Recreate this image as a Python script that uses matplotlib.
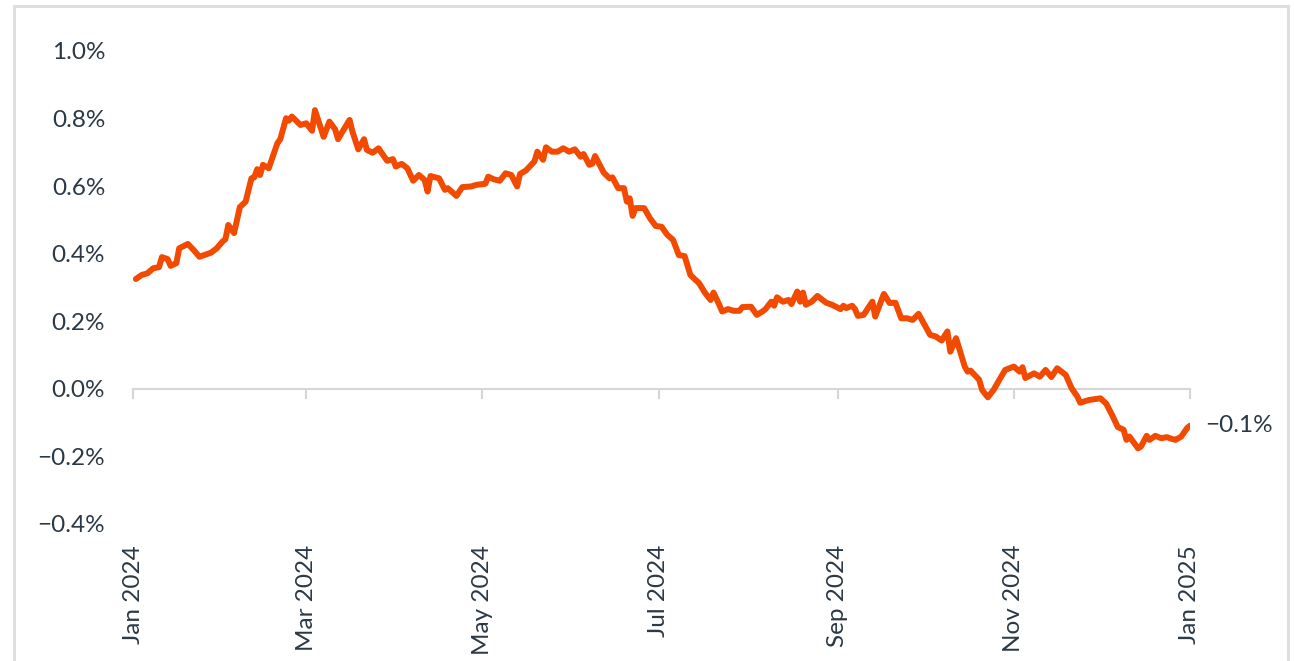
import matplotlib
matplotlib.use("Agg")
import matplotlib.pyplot as plt
from matplotlib.patches import Rectangle
import pandas as pd

dates = [
    "2024-01-02", "2024-01-04", "2024-01-06", "2024-01-08", "2024-01-10", "2024-01-11", "2024-01-13", "2024-01-14",
    "2024-01-16", "2024-01-17", "2024-01-20", "2024-01-22", "2024-01-24", "2024-01-28", "2024-01-30", "2024-02-01",
    "2024-02-02", "2024-02-03", "2024-02-05", "2024-02-07", "2024-02-09", "2024-02-11", "2024-02-12", "2024-02-13",
    "2024-02-14", "2024-02-15", "2024-02-17", "2024-02-20", "2024-02-21", "2024-02-23", "2024-02-24", "2024-02-25",
    "2024-02-28", "2024-03-01", "2024-03-03", "2024-03-04", "2024-03-07", "2024-03-09", "2024-03-11", "2024-03-12",
    "2024-03-14", "2024-03-16", "2024-03-17", "2024-03-19", "2024-03-21", "2024-03-22", "2024-03-24", "2024-03-26",
    "2024-03-29", "2024-03-31", "2024-04-01", "2024-04-03", "2024-04-05", "2024-04-07", "2024-04-09", "2024-04-11",
    "2024-04-12", "2024-04-13", "2024-04-16", "2024-04-18", "2024-04-19", "2024-04-22", "2024-04-24", "2024-04-27",
    "2024-04-29", "2024-05-02", "2024-05-03", "2024-05-05", "2024-05-07", "2024-05-09", "2024-05-11", "2024-05-13",
    "2024-05-14", "2024-05-16", "2024-05-19", "2024-05-20", "2024-05-22", "2024-05-23", "2024-05-25", "2024-05-27",
    "2024-05-29", "2024-05-31", "2024-06-02", "2024-06-04", "2024-06-05", "2024-06-07", "2024-06-08", "2024-06-09",
    "2024-06-12", "2024-06-14", "2024-06-15", "2024-06-17", "2024-06-19", "2024-06-20", "2024-06-21", "2024-06-22",
    "2024-06-23", "2024-06-26", "2024-06-28", "2024-06-30", "2024-07-02", "2024-07-04", "2024-07-06", "2024-07-08",
    "2024-07-10", "2024-07-12", "2024-07-15", "2024-07-17", "2024-07-19", "2024-07-20", "2024-07-22", "2024-07-23",
    "2024-07-25", "2024-07-27", "2024-07-29", "2024-07-30", "2024-08-02", "2024-08-04", "2024-08-06", "2024-08-07",
    "2024-08-09", "2024-08-10", "2024-08-11", "2024-08-13", "2024-08-15", "2024-08-16", "2024-08-18", "2024-08-19",
    "2024-08-20", "2024-08-21", "2024-08-23", "2024-08-25", "2024-08-28", "2024-08-30", "2024-09-02", "2024-09-03",
    "2024-09-04", "2024-09-06", "2024-09-07", "2024-09-08", "2024-09-10", "2024-09-13", "2024-09-14", "2024-09-17",
    "2024-09-19", "2024-09-21", "2024-09-23", "2024-09-25", "2024-09-27", "2024-09-29", "2024-10-03", "2024-10-05",
    "2024-10-07", "2024-10-09", "2024-10-10", "2024-10-12", "2024-10-15", "2024-10-16", "2024-10-17", "2024-10-20",
    "2024-10-21", "2024-10-23", "2024-10-25", "2024-10-27", "2024-10-29", "2024-11-01", "2024-11-03", "2024-11-04",
    "2024-11-05", "2024-11-08", "2024-11-10", "2024-11-12", "2024-11-14", "2024-11-16", "2024-11-19", "2024-11-21",
    "2024-11-23", "2024-11-24", "2024-11-27", "2024-12-01", "2024-12-03", "2024-12-05", "2024-12-07", "2024-12-09",
    "2024-12-10", "2024-12-11", "2024-12-14", "2024-12-15", "2024-12-17", "2024-12-18", "2024-12-20", "2024-12-22",
    "2024-12-24", "2024-12-26", "2024-12-27", "2024-12-29", "2024-12-31", "2025-01-01",
]

values = [
    0.325, 0.337, 0.342, 0.357, 0.360, 0.390, 0.384, 0.364,
    0.372, 0.416, 0.429, 0.411, 0.391, 0.403, 0.416, 0.436,
    0.443, 0.485, 0.461, 0.538, 0.554, 0.623, 0.626, 0.650,
    0.633, 0.663, 0.653, 0.727, 0.739, 0.801, 0.794, 0.806,
    0.781, 0.786, 0.764, 0.825, 0.746, 0.791, 0.768, 0.739,
    0.768, 0.796, 0.761, 0.709, 0.739, 0.707, 0.699, 0.712,
    0.675, 0.680, 0.658, 0.666, 0.653, 0.616, 0.633, 0.618,
    0.584, 0.630, 0.623, 0.589, 0.594, 0.571, 0.597, 0.599,
    0.604, 0.607, 0.628, 0.620, 0.616, 0.638, 0.633, 0.599,
    0.636, 0.646, 0.673, 0.702, 0.678, 0.715, 0.702, 0.702,
    0.712, 0.702, 0.709, 0.687, 0.695, 0.663, 0.666, 0.689,
    0.640, 0.623, 0.626, 0.594, 0.594, 0.554, 0.564, 0.512,
    0.535, 0.535, 0.505, 0.482, 0.480, 0.456, 0.441, 0.396,
    0.393, 0.337, 0.313, 0.285, 0.263, 0.285, 0.249, 0.229,
    0.236, 0.231, 0.231, 0.242, 0.243, 0.219, 0.229, 0.236,
    0.258, 0.246, 0.271, 0.258, 0.263, 0.251, 0.288, 0.258,
    0.285, 0.249, 0.258, 0.275, 0.255, 0.249, 0.236, 0.246,
    0.239, 0.246, 0.236, 0.216, 0.219, 0.258, 0.214, 0.281,
    0.254, 0.255, 0.209, 0.209, 0.204, 0.222, 0.160, 0.155,
    0.143, 0.170, 0.110, 0.150, 0.066, 0.051, 0.054, 0.027,
    -0.003, -0.025, -0.003, 0.027, 0.056, 0.066, 0.051, 0.064,
    0.032, 0.046, 0.036, 0.056, 0.035, 0.061, 0.041, 0.002,
    -0.023, -0.041, -0.033, -0.028, -0.044, -0.077, -0.113, -0.121,
    -0.151, -0.141, -0.176, -0.171, -0.139, -0.151, -0.139, -0.146,
    -0.143, -0.149, -0.151, -0.141, -0.116, -0.109,
]

x_ticks = ["2024-01-01", "2024-03-01", "2024-05-01", "2024-07-01", "2024-09-01", "2024-11-01", "2025-01-01"]
x_tick_labels = ["Jan 2024", "Mar 2024", "May 2024", "Jul 2024", "Sep 2024", "Nov 2024", "Jan 2025"]
y_ticks = [-0.4, -0.2, 0.0, 0.2, 0.4, 0.6, 0.8, 1.0]
y_tick_labels = ["\u22120.4%", "\u22120.2%", "0.0%", "0.2%", "0.4%", "0.6%", "0.8%", "1.0%"]
end_label = "\u22120.1%"

LINE = "#f24a00"
TEXT = "#2b3845"
GRID = "#d6d6d6"
FONT = ["Lato", "DejaVu Sans"]
plt.rcParams["font.family"] = FONT
FS = 17.5

W, H = 1294, 661
fig = plt.figure(figsize=(W / 100, H / 100), dpi=100)
ax = fig.add_axes([133 / W, 1 - 524 / H, (1190 - 133) / W, (524 - 51) / H])

xd = pd.to_datetime(dates)
ax.plot(xd, values, color=LINE, lw=4.3, solid_joinstyle="round", solid_capstyle="round", zorder=3)

ax.set_xlim(pd.Timestamp(x_ticks[0]), pd.Timestamp(x_ticks[-1]))
ax.set_ylim(y_ticks[0], y_ticks[-1])

for s in ["top", "right", "left"]:
    ax.spines[s].set_visible(False)
ax.spines["bottom"].set_position(("data", 0))
ax.spines["bottom"].set_color(GRID)
ax.spines["bottom"].set_linewidth(1.5)
ax.set_xticks(pd.to_datetime(x_ticks))
ax.tick_params(axis="x", direction="out", length=7, width=1.5, color=GRID, labelbottom=False)
ax.set_yticks(y_ticks)
ax.set_yticklabels(y_tick_labels)
ax.tick_params(axis="y", length=0, pad=20, labelsize=FS, labelcolor=TEXT)

sec = ax.secondary_xaxis(0.0)
sec.set_xticks(pd.to_datetime(x_ticks))
sec.set_xticklabels(x_tick_labels, rotation=90, va="top", ha="center")
sec.tick_params(axis="x", length=0, pad=15, labelsize=FS, labelcolor=TEXT)
sec.spines["bottom"].set_visible(False)

ax.annotate(end_label, xy=(xd[-1], values[-1]), xytext=(11, 0), textcoords="offset points",
            va="center", ha="left", fontsize=FS, color=TEXT)

fig.patches.append(Rectangle((14 / W, -0.1), (1288 - 14) / W, 1.1 - 6 / H, transform=fig.transFigure,
                             fill=False, edgecolor="#dedede", linewidth=2.2, clip_on=False))

fig.savefig("out.png", dpi=100)
